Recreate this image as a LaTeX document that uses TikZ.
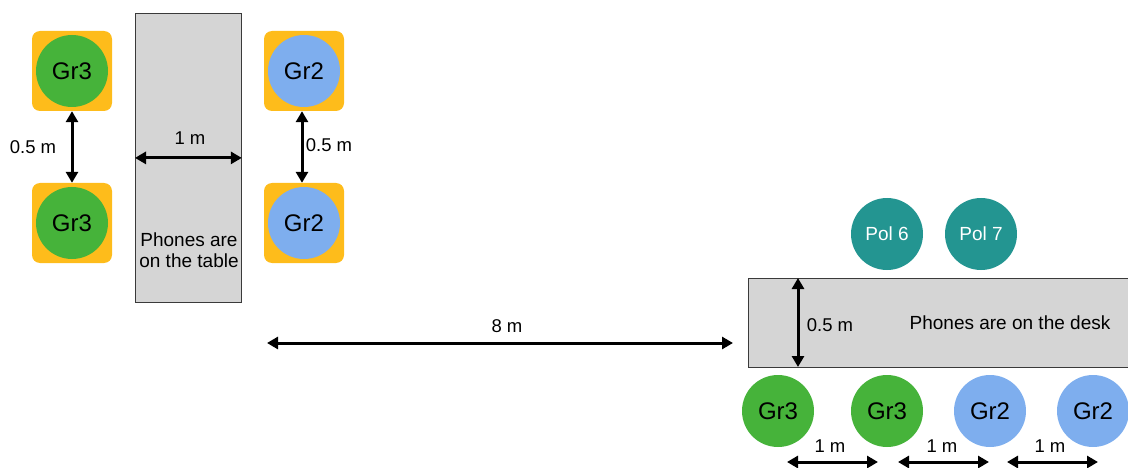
\documentclass[tikz,border=0pt]{standalone}
\usepackage{fontspec}
\setmainfont{Liberation Sans}
\usetikzlibrary{arrows.meta}
\definecolor{padorange}{HTML}{FEBC1B}
\definecolor{grthree}{HTML}{46B33A}
\definecolor{grtwo}{HTML}{7EAEEE}
\definecolor{polteal}{HTML}{239591}
\definecolor{furniture}{HTML}{D5D5D5}
\definecolor{edge}{HTML}{3A3A3A}
\tikzset{
  pad/.style={rectangle, rounded corners=8pt, minimum size=80, inner sep=0, fill=padorange},
  person/.style={circle, minimum size=72, inner sep=0, font=\fontsize{24}{28}\selectfont},
  gthree/.style={person, fill=grthree},
  gtwo/.style={person, fill=grtwo},
  pol/.style={person, fill=polteal, text=white, font=\fontsize{19}{22}\selectfont},
  furn/.style={rectangle, draw=edge, line width=0.8pt, fill=furniture, inner sep=0},
  lbl/.style={font=\fontsize{18.5}{21}\selectfont, inner sep=0},
  dim/.style={line width=3pt, {Triangle[length=11pt,width=12pt]}-{Triangle[length=11pt,width=12pt]}}
}
\begin{document}
\begin{tikzpicture}[x=1pt,y=-1pt]
\useasboundingbox (0,0) rectangle (1128,468);

% ---- meeting room: table with two rows of phones ----
\node[furn, minimum width=106, minimum height=289, anchor=north west] (table) at (135,13) {};
\node[lbl, align=center, font=\fontsize{19}{21}\selectfont] (tabletext) at (189,250) {Phones are\\on the table};

\node[pad] (padA) at (72,71) {};
\node[gthree] (gA) at (72,71) {Gr3};
\node[pad] (padB) at (72,223) {};
\node[gthree] (gB) at (72,223) {Gr3};

\node[pad] (padC) at (304,71) {};
\node[gtwo] (gC) at (304,71) {Gr2};
\node[pad] (padD) at (304,223) {};
\node[gtwo] (gD) at (304,223) {Gr2};

\draw[dim] (padA.south) -- (padB.north);
\node[lbl] (dA) at (33,147) {0.5 m};
\draw[dim] (table.west) -- (table.east);
\node[lbl] (dT) at (190,138) {1 m};
\draw[dim] ([xshift=-2pt]padC.south) -- ([xshift=-2pt]padD.north);
\node[lbl] (dC) at (329,145) {0.5 m};

% ---- distance between the two set-ups ----
\coordinate (farL) at (267,343);
\coordinate (farR) at (733,343);
\draw[dim] (farL) -- (farR);
\node[lbl] (dFar) at (507,326) {8 m};

% ---- office: desk with phones in a row ----
\node[furn, minimum width=390, minimum height=89, anchor=north west] (desk) at (748,278) {};
\node[lbl, font=\fontsize{19}{22}\selectfont] (desktext) at (1010,323) {Phones are on the desk};

\node[pol] (p6) at (887,234) {Pol 6};
\node[pol] (p7) at (981,234) {Pol 7};

\node[gthree] (r1) at (778,411) {Gr3};
\node[gthree] (r2) at (887,411) {Gr3};
\node[gtwo] (r3) at (990,411) {Gr2};
\node[gtwo] (r4) at (1093,411) {Gr2};

\coordinate (deskTop) at (798,278);
\coordinate (deskBot) at (798,367);
\draw[dim] (deskTop) -- (deskBot);
\node[lbl] (dDesk) at (830,325) {0.5 m};

\coordinate (a1) at (787,462);
\coordinate (b1) at (878,462);
\coordinate (a2) at (898,462);
\coordinate (b2) at (989,462);
\coordinate (a3) at (1007,462);
\coordinate (b3) at (1098,462);
\draw[dim] (a1) -- (b1);
\draw[dim] (a2) -- (b2);
\draw[dim] (a3) -- (b3);
\node[lbl] (l1) at (830,446) {1 m};
\node[lbl] (l2) at (942,446) {1 m};
\node[lbl] (l3) at (1050,446) {1 m};
\end{tikzpicture}
\end{document}
